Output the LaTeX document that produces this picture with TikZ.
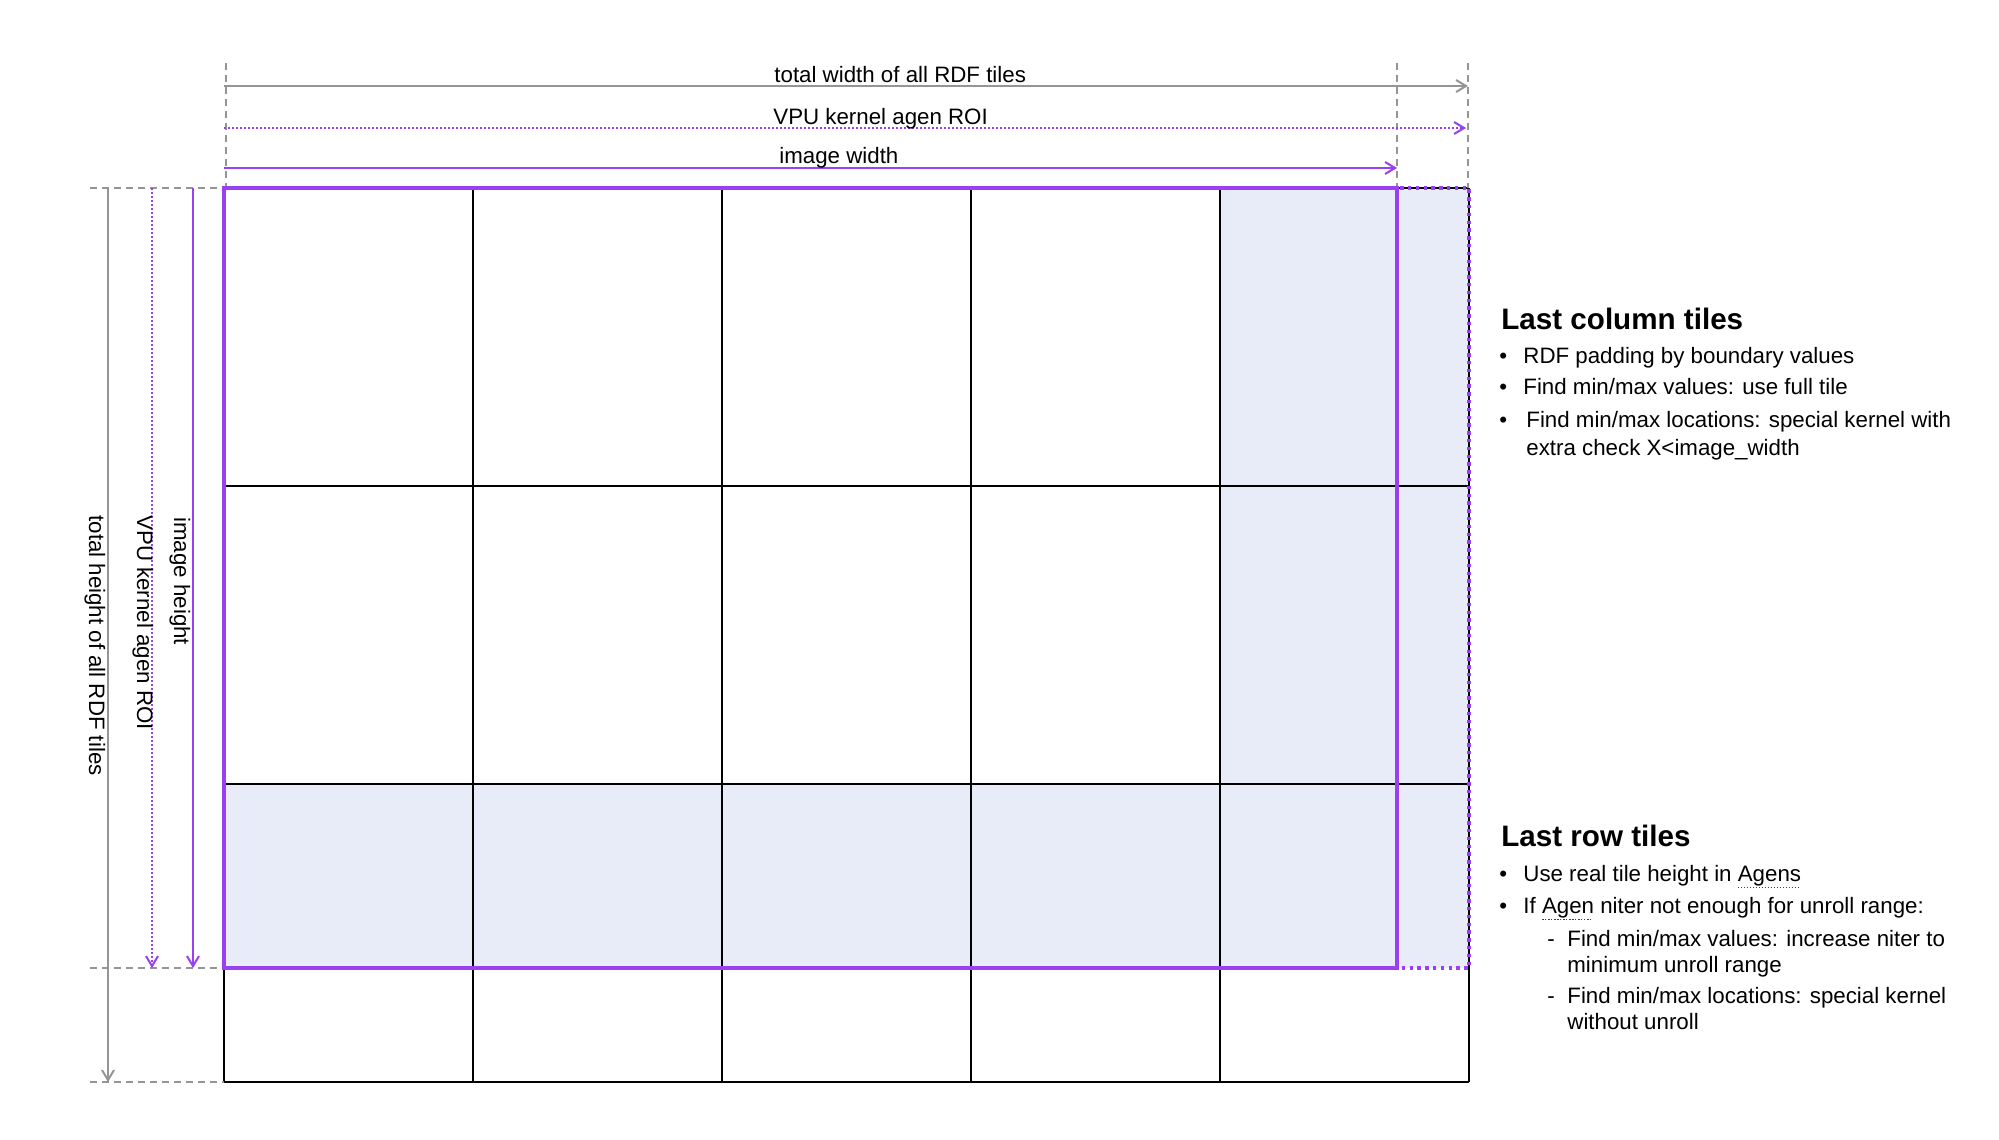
\documentclass[tikz,border=0pt]{standalone}
\usepackage{fontspec}
\setmainfont{Liberation Sans}
\usetikzlibrary{arrows.meta}
\definecolor{vpurple}{HTML}{9A3FF2}
\definecolor{dimgray}{HTML}{959595}
\definecolor{tileblue}{HTML}{E8ECF8}
\newsavebox\sqbox
\newcommand\spellmark[1]{\sbox\sqbox{#1}\rlap{\raisebox{-3.4pt}{\color{red!85!black}\leaders\hbox to 1.5pt{\rule{0.75pt}{0.6pt}\hss}\hskip\wd\sqbox}}\usebox\sqbox}
\tikzset{
 lbl/.style={font=\fontsize{11.15pt}{13pt}\selectfont, inner sep=0pt, anchor=base west},
 head/.style={font=\fontsize{14.8pt}{17pt}\selectfont\bfseries, inner sep=0pt, anchor=base west},
 tilegrid/.style={line width=0.6pt, black},
 ext/.style={dimgray, line width=1pt, dash pattern=on 3.5pt off 2.5pt},
 dimarrow/.style={line width=1pt, -{Straight Barb[length=5pt,width=6pt]}},
 totdim/.style={dimarrow, dimgray},
 roidim/.style={dimarrow, vpurple, dash pattern=on 1pt off 1pt},
 imgdim/.style={dimarrow, vpurple},
 roibox/.style={vpurple, line width=1.7pt, dash pattern=on 1.7pt off 2.2pt},
 imgbox/.style={vpurple, line width=1.8pt},
}
\begin{document}
\begin{tikzpicture}[x=0.5pt,y=-0.5pt]
\useasboundingbox (0,0) rectangle (1999,1140);
% shaded last column / last row
\fill[tileblue] (1220,188) rectangle (1469,968);
\fill[tileblue] (224,784) rectangle (1469,968);
% tile grid
\foreach \x in {224,473,722,971,1220,1469} \draw[tilegrid] (\x,188) -- (\x,1082);
\foreach \y in {188,486,784,1082} \draw[tilegrid] (224,\y) -- (1469,\y);
% extension lines
\draw[ext] (226,63) -- (226,188);
\draw[ext] (1397,63) -- (1397,188);
\draw[ext] (1468,63) -- (1468,188);
\draw[ext] (90,188) -- (224,188);
\draw[ext] (90,968) -- (224,968);
\draw[ext] (90,1082) -- (224,1082);
% dimension arrows
\coordinate (tw0) at (224,86);  \coordinate (tw1) at (1468,86);
\coordinate (rw0) at (224,128); \coordinate (rw1) at (1466,128);
\coordinate (iw0) at (224,168); \coordinate (iw1) at (1397,168);
\coordinate (th0) at (108,188); \coordinate (th1) at (108,1082);
\coordinate (rh0) at (152,188); \coordinate (rh1) at (152,968);
\coordinate (ih0) at (193,188); \coordinate (ih1) at (193,968);
\draw[totdim] (tw0) -- (tw1);
\draw[roidim] (rw0) -- (rw1);
\draw[imgdim] (iw0) -- (iw1);
\draw[totdim] (th0) -- (th1);
\draw[roidim] (rh0) -- (rh1);
\draw[imgdim] (ih0) -- (ih1);
% ROI and image boxes
\draw[roibox] (224,188) rectangle (1469,968);
\draw[imgbox] (224,188) rectangle (1397,968);
% dimension labels
\node[lbl] (twl) at (774,82) {total width of all RDF tiles};
\node[lbl] (rwl) at (773,124) {VPU kernel agen ROI};
\node[lbl] (iwl) at (779,163) {image width};
\node[lbl, rotate=-90] (thl) at (89,515) {total height of all RDF tiles};
\node[lbl, rotate=-90] (rhl) at (137,515) {VPU kernel agen ROI};
\node[lbl, rotate=-90] (ihl) at (174,517) {image height};
% right text: last column
\node[head] (h1) at (1501,329) {Last column tiles};
\node[lbl] (b1d) at (1499,363) {•};
\node[lbl] (b1) at (1523,363) {RDF padding by boundary values};
\node[lbl] (b2d) at (1499,394) {•};
\node[lbl] (b2) at (1523,394) {Find min/max values: use full tile};
\node[lbl] (b3d) at (1499,427) {•};
\node[lbl] (b3) at (1526,427) {Find min/max locations: special kernel with};
\node[lbl] (b3b) at (1526,455) {extra check X<image\_width};
% right text: last row
\node[head] (h2) at (1501,846) {Last row tiles};
\node[lbl] (c1d) at (1499,881) {•};
\node[lbl] (c1) at (1523,881) {Use real tile height in \spellmark{Agens}};
\node[lbl] (c2d) at (1499,913) {•};
\node[lbl] (c2) at (1523,913) {If \spellmark{Agen} niter not enough for unroll range:};
\node[lbl] (d1d) at (1547,946) {-};
\node[lbl] (d1) at (1567,946) {Find min/max values: increase niter to};
\node[lbl] (d1b) at (1567,972) {minimum unroll range};
\node[lbl] (d2d) at (1547,1003) {-};
\node[lbl] (d2) at (1567,1003) {Find min/max locations: special kernel};
\node[lbl] (d2b) at (1567,1029) {without unroll};
\end{tikzpicture}
\end{document}
